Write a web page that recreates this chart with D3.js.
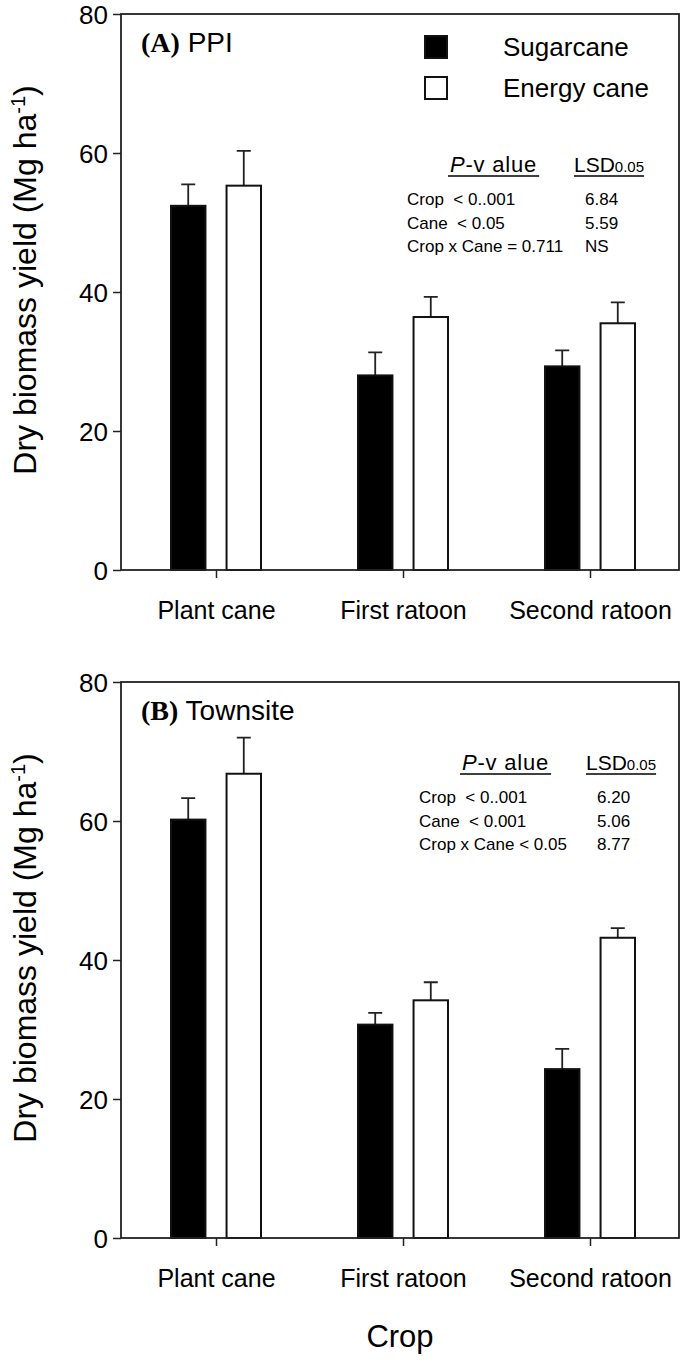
<!DOCTYPE html>
<html>
<head>
<meta charset="utf-8">
<script src="https://cdn.jsdelivr.net/npm/d3@7"></script>
<style>
    body { margin: 0; background: #fff; }
    #chart text { font-family: 'Liberation Sans', Arial, sans-serif; fill: #000; }
</style>
</head>
<body>
<div id="chart"></div>
<script>
//Datos
const categories = ['Plant cane', 'First ratoon', 'Second ratoon'];
const series = ['Sugarcane', 'Energy cane'];
const yTicks = [0, 20, 40, 60, 80];

//(A) PPI
const ppiSugarcane = [52.4, 28.0, 29.3];
const ppiSugarcaneSE = [3.1, 3.3, 2.3];
const ppiEnergy = [55.3, 36.4, 35.5];
const ppiEnergySE = [5.0, 2.9, 3.0];
const ppiStatsLabels = ['Crop  < 0..001', 'Cane  < 0.05', 'Crop x Cane = 0.711'];
const ppiStatsLsd = ['6.84', '5.59', 'NS'];

//(B) Townsite
const townSugarcane = [60.2, 30.7, 24.3];
const townSugarcaneSE = [3.1, 1.7, 2.9];
const townEnergy = [66.8, 34.2, 43.2];
const townEnergySE = [5.2, 2.6, 1.4];
const townStatsLabels = ['Crop  < 0..001', 'Cane  < 0.001', 'Crop x Cane < 0.05'];
const townStatsLsd = ['6.20', '5.06', '8.77'];

const COLOR_SUGAR = '#000', COLOR_ENERGY = '#fff';

let width = 685, height = 1363;
let margin = {left: 121, right: 6};

let svg = d3.select('#chart')
    .append('svg')
    .attr('width', width)
    .attr('height', height);

let x = d3.scalePoint()
    .domain(categories)
    .range([216, 590]);

let xSub = d3.scaleBand()
    .domain(series)
    .range([-45, 45])
    .paddingInner(0.38);

let color = d3.scaleOrdinal()
    .domain(series)
    .range([COLOR_SUGAR, COLOR_ENERGY]);

function drawPanel(cfg) {
    let y = d3.scaleLinear()
        .domain([0, 80])
        .range([cfg.bottom, cfg.top]);

    let g = svg.append('g');

    //Eje Y
    g.append('g')
        .attr('transform', 'translate(' + margin.left + ',0)')
        .call(d3.axisLeft(y).tickValues(yTicks).tickSize(8).tickPadding(5).tickSizeOuter(0))
        .call(function(a) {
            a.select('.domain').remove();
            a.selectAll('.tick line').attr('stroke', '#222').attr('stroke-width', 1.5);
            a.selectAll('text').style('font-size', '26px').attr('dy', '0.36em');
        });

    //Eje X
    g.append('g')
        .attr('transform', 'translate(0,' + cfg.bottom + ')')
        .call(d3.axisBottom(x).tickSize(8).tickPadding(23).tickSizeOuter(0))
        .call(function(a) {
            a.select('.domain').remove();
            a.selectAll('.tick line').attr('stroke', '#222').attr('stroke-width', 1.5);
            a.selectAll('text').style('font-size', '25px');
        });

    //Barras
    let rows = categories.map(function(c, i) {
        return {cat: c, values: [
            {key: series[0], value: cfg.sugar[i], se: cfg.sugarSE[i]},
            {key: series[1], value: cfg.energy[i], se: cfg.energySE[i]}
        ]};
    });

    let grupos = g.append('g')
        .selectAll('g')
        .data(rows)
        .enter()
        .append('g')
        .attr('transform', function(d) { return 'translate(' + x(d.cat) + ',0)'; });

    //Error (solo hacia arriba)
    grupos.selectAll('.err')
        .data(function(d) { return d.values; })
        .enter()
        .append('path')
        .attr('class', 'err')
        .attr('fill', 'none')
        .attr('stroke', '#222')
        .attr('stroke-width', 1.8)
        .attr('d', function(d) {
            let cx = xSub(d.key) + xSub.bandwidth() / 2;
            return 'M' + cx + ',' + y(d.value) + 'V' + y(d.value + d.se) +
                'M' + (cx - 7) + ',' + y(d.value + d.se) + 'H' + (cx + 7);
        });

    grupos.selectAll('rect')
        .data(function(d) { return d.values; })
        .enter()
        .append('rect')
        .attr('x', function(d) { return xSub(d.key); })
        .attr('width', xSub.bandwidth())
        .attr('y', function(d) { return y(d.value); })
        .attr('height', function(d) { return y(0) - y(d.value); })
        .attr('fill', function(d) { return color(d.key); })
        .attr('stroke', '#111')
        .attr('stroke-width', 2);

    //Marco
    g.append('rect')
        .attr('x', margin.left)
        .attr('y', cfg.top)
        .attr('width', width - margin.right - margin.left)
        .attr('height', cfg.bottom - cfg.top)
        .attr('fill', 'none')
        .attr('stroke', '#222')
        .attr('stroke-width', 1.8);

    //Título del panel
    let title = g.append('text')
        .attr('x', 141)
        .attr('y', cfg.top + 38)
        .style('font-size', '28px');
    title.append('tspan')
        .style('font-family', "'Liberation Serif', 'Times New Roman', serif")
        .style('font-weight', 'bold')
        .text(cfg.letter);
    title.append('tspan').text(' ' + cfg.name);

    //Eje Y título
    let yt = g.append('text')
        .attr('transform', 'translate(36,' + ((cfg.top + cfg.bottom) / 2 - 12) + ') rotate(-90)')
        .attr('text-anchor', 'middle')
        .style('font-size', '32px');
    yt.append('tspan').text('Dry biomass yield (Mg ha');
    yt.append('tspan').attr('dy', '-0.55em').style('font-size', '20px').text('-1');
    yt.append('tspan').attr('dy', '0.35em').text(')');

    //Tabla de estadísticos
    let st = cfg.stats;
    let head1 = g.append('text')
        .attr('x', st.x1)
        .attr('y', st.y)
        .style('font-size', '22px')
        .style('letter-spacing', '0.8px');
    head1.append('tspan').style('font-style', 'italic').text('P');
    head1.append('tspan').text('-v alue');
    let w1 = head1.node().getComputedTextLength();
    g.append('line')
        .attr('x1', st.x1 - 2).attr('x2', st.x1 + w1 + 2)
        .attr('y1', st.y + 4).attr('y2', st.y + 4)
        .attr('stroke', '#000').attr('stroke-width', 1.5);

    let head2 = g.append('text')
        .attr('x', st.x2)
        .attr('y', st.y)
        .style('font-size', '21px');
    head2.append('tspan').text('LSD');
    head2.append('tspan').style('font-size', '15px').text('0.05');
    let w2 = head2.node().getComputedTextLength();
    g.append('line')
        .attr('x1', st.x2).attr('x2', st.x2 + w2)
        .attr('y1', st.y + 4).attr('y2', st.y + 4)
        .attr('stroke', '#000').attr('stroke-width', 1.5);

    g.selectAll('.stat-label')
        .data(cfg.statsLabels)
        .enter()
        .append('text')
        .attr('class', 'stat-label')
        .attr('x', st.x1 - 43)
        .attr('y', function(d, i) { return st.y + 33 + i * 23.5; })
        .attr('xml:space', 'preserve')
        .style('white-space', 'pre')
        .style('font-size', '17px')
        .text(function(d) { return d; });

    g.selectAll('.stat-lsd')
        .data(cfg.statsLsd)
        .enter()
        .append('text')
        .attr('class', 'stat-lsd')
        .attr('x', st.x2 + 11)
        .attr('y', function(d, i) { return st.y + 33 + i * 23.5; })
        .style('font-size', '17px')
        .text(function(d) { return d; });
}

drawPanel({
    top: 14, bottom: 570, letter: '(A)', name: 'PPI',
    sugar: ppiSugarcane, sugarSE: ppiSugarcaneSE, energy: ppiEnergy, energySE: ppiEnergySE,
    stats: {x1: 450, x2: 574, y: 172},
    statsLabels: ppiStatsLabels, statsLsd: ppiStatsLsd
});

drawPanel({
    top: 682, bottom: 1238, letter: '(B)', name: 'Townsite',
    sugar: townSugarcane, sugarSE: townSugarcaneSE, energy: townEnergy, energySE: townEnergySE,
    stats: {x1: 462, x2: 586, y: 770},
    statsLabels: townStatsLabels, statsLsd: townStatsLsd
});

//Leyenda (panel A)
let legend = svg.append('g')
    .selectAll('g')
    .data(series)
    .enter()
    .append('g')
    .attr('transform', function(d, i) { return 'translate(425,' + (36 + i * 41) + ')'; });

legend.append('rect')
    .attr('width', 22)
    .attr('height', 22)
    .attr('fill', function(d) { return color(d); })
    .attr('stroke', '#111')
    .attr('stroke-width', 2);

legend.append('text')
    .attr('x', 78)
    .attr('y', 20)
    .style('font-size', '26px')
    .text(function(d) { return d; });

//Título eje X
svg.append('text')
    .attr('x', 400)
    .attr('y', 1347)
    .attr('text-anchor', 'middle')
    .style('font-size', '31px')
    .text('Crop');
</script>
</body>
</html>
